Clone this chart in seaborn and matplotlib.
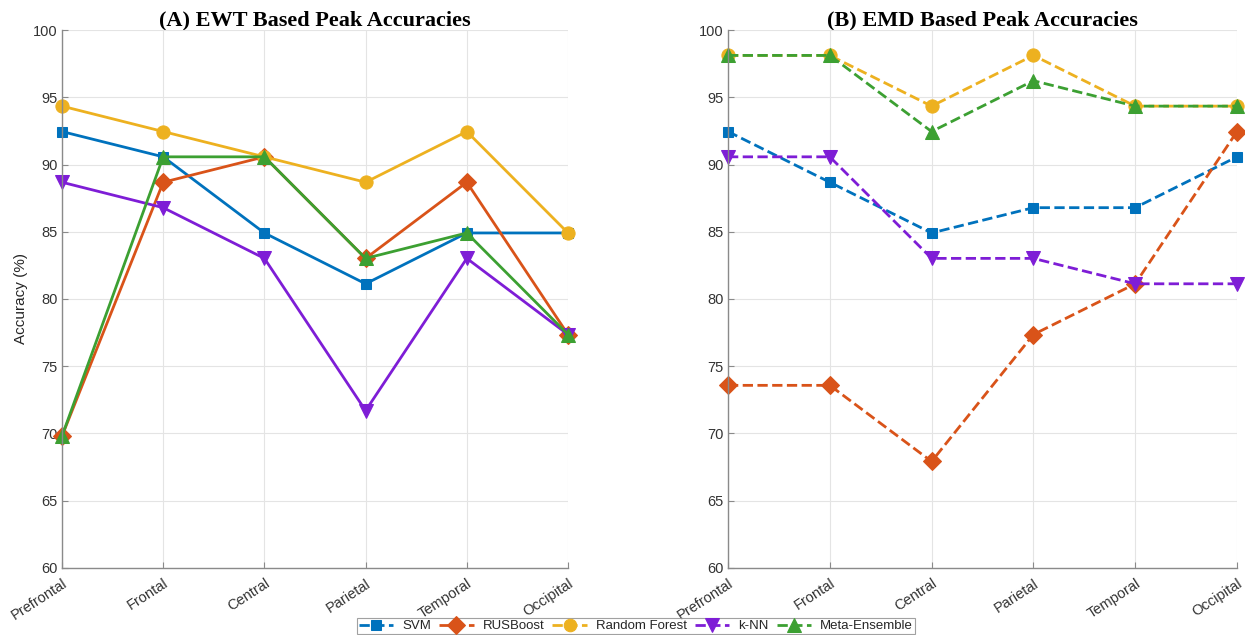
import matplotlib
matplotlib.use("Agg")
import matplotlib.pyplot as plt
import seaborn as sns
import pandas as pd

regions = ["Prefrontal", "Frontal", "Central", "Parietal", "Temporal", "Occipital"]
models = ["SVM", "RUSBoost", "Random Forest", "k-NN", "Meta-Ensemble"]

# EWT based peak accuracies (%)
ewt_svm = [92.45, 90.57, 84.91, 81.13, 84.91, 84.91]
ewt_rus = [69.81, 88.68, 90.57, 83.02, 88.68, 77.36]
ewt_rf = [94.34, 92.45, 90.57, 88.68, 92.45, 84.91]
ewt_knn = [88.68, 86.79, 83.02, 71.70, 83.02, 77.36]
ewt_meta = [69.81, 90.57, 90.57, 83.02, 84.91, 77.36]

# EMD based peak accuracies (%)
emd_svm = [92.45, 88.68, 84.91, 86.79, 86.79, 90.57]
emd_rus = [73.58, 73.58, 67.92, 77.36, 81.13, 92.45]
emd_rf = [98.11, 98.11, 94.34, 98.11, 94.34, 94.34]
emd_knn = [90.57, 90.57, 83.02, 83.02, 81.13, 81.13]
emd_meta = [98.11, 98.11, 92.45, 96.23, 94.34, 94.34]

yticks = [60, 65, 70, 75, 80, 85, 90, 95, 100]

colors = ["#0072BD", "#D95319", "#EDB120", "#7E1DD6", "#3CA032"]
markers = ["s", "D", "o", "v", "^"]
msizes = [7.5, 9.5, 9.5, 10.5, 10.5]

sns.set_theme(style="white")
plt.rcParams["font.family"] = ["Liberation Sans", "DejaVu Sans"]

W, H = 1245, 635
fig = plt.figure(figsize=(W / 100, H / 100), dpi=100)
ax1 = fig.add_axes([62 / W, 1 - 568 / H, 506 / W, 538 / H])
ax2 = fig.add_axes([728 / W, 1 - 568 / H, 509 / W, 538 / H])


def draw(ax, series, ls, title):
    for name, vals, c, m, ms in zip(models, series, colors, markers, msizes):
        df = pd.DataFrame({"Region": regions, "Accuracy": vals})
        sns.lineplot(data=df, x="Region", y="Accuracy", ax=ax, color=c,
                     marker=m, markersize=ms, markeredgecolor=c,
                     linewidth=2.0, linestyle=ls, label=name,
                     clip_on=False, sort=False, legend=False)
    ax.set_xlim(0, 5)
    ax.set_ylim(60, 100)
    ax.set_yticks(yticks)
    ax.set_xticks(range(len(regions)))
    ax.set_xticklabels(regions, rotation=33, ha="right", rotation_mode="anchor")
    ax.set_xlabel("")
    ax.grid(True, color="#e4e4e4", linewidth=0.8)
    ax.set_axisbelow(True)
    for side in ["top", "right"]:
        ax.spines[side].set_visible(False)
    for side in ["left", "bottom"]:
        ax.spines[side].set_color("#8a8a8a")
        ax.spines[side].set_linewidth(1.0)
    ax.tick_params(axis="both", direction="in", length=4, width=0.8,
                   color="#8a8a8a", labelsize=10.5, labelcolor="#333333",
                   left=True, bottom=True, pad=3)
    ax.tick_params(axis="x", pad=6)
    ax.text(0.5, 1 + 10 / 538, title, transform=ax.transAxes,
            fontsize=16, fontweight="bold",
            family=["Liberation Serif", "DejaVu Serif"], ha="center",
            va="center", color="black", zorder=0,
            bbox=dict(facecolor="white", edgecolor="none", pad=2))


draw(ax1, [ewt_svm, ewt_rus, ewt_rf, ewt_knn, ewt_meta], "-",
     "(A) EWT Based Peak Accuracies")
draw(ax2, [emd_svm, emd_rus, emd_rf, emd_knn, emd_meta], "--",
     "(B) EMD Based Peak Accuracies")
ax1.set_ylabel("Accuracy (%)", fontsize=11, color="#262626")
ax2.set_ylabel("")

handles = ax2.get_lines()[:len(models)]
leg = fig.legend(handles, models, loc="lower center", ncol=5,
                 bbox_to_anchor=(636 / W, 0.0), borderaxespad=0.05,
                 fontsize=9.5, frameon=True, fancybox=False,
                 edgecolor="#8a8a8a", handlelength=2.6, handletextpad=0.7,
                 columnspacing=0.6, borderpad=0.15, markerscale=0.95)
leg.get_frame().set_linewidth(0.8)

fig.savefig("out.png", dpi=100)
